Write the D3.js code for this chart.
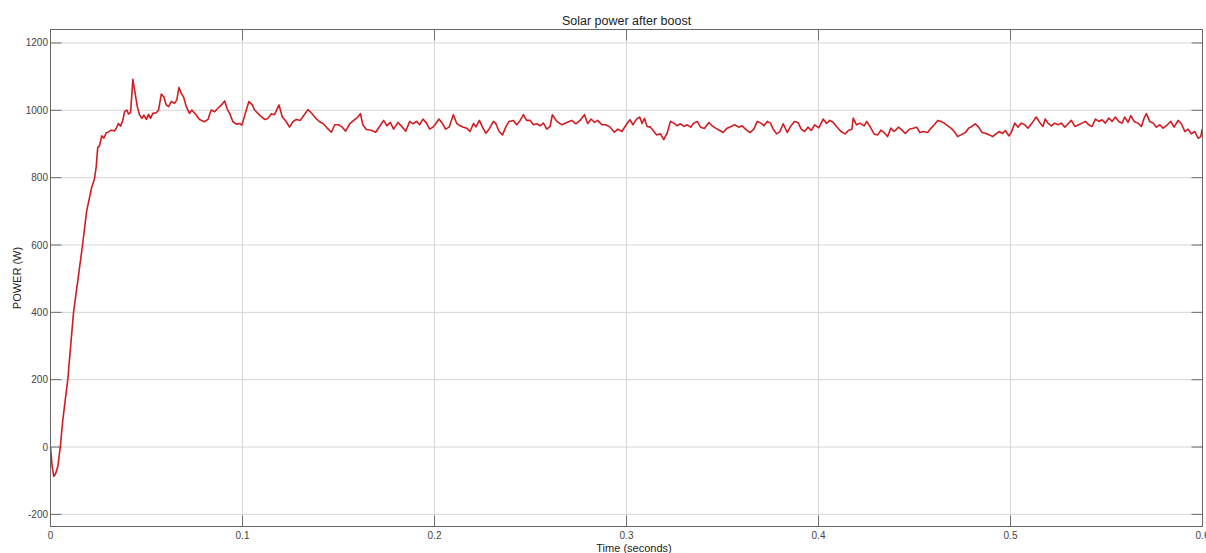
<!DOCTYPE html>
<html>
<head>
<meta charset="utf-8">
<script src="https://cdn.jsdelivr.net/npm/d3@7"></script>
<style>
  body { margin: 0; background: #fff; }
  text { font-family: "Liberation Sans", Arial, sans-serif; }
</style>
</head>
<body>
<div id="chart"></div>
<script>
// simulation output
const time = [
  0, 0.0008, 0.0017, 0.0026, 0.0038, 0.0051, 0.0064, 0.0078, 0.0090, 0.0120,
  0.0167, 0.0188, 0.0214, 0.0229, 0.0238, 0.0246, 0.0255, 0.0267, 0.0278, 0.0290,
  0.0302, 0.0316, 0.0334, 0.0342, 0.0354, 0.0365, 0.0377, 0.0386, 0.0398, 0.0406,
  0.0417, 0.0429, 0.0438, 0.0452, 0.0464, 0.0476, 0.0486, 0.0499, 0.0511, 0.0521,
  0.0533, 0.0551, 0.0563, 0.0577, 0.0590, 0.0603, 0.0615, 0.0629, 0.0646, 0.0658,
  0.0669, 0.0681, 0.0693, 0.0707, 0.0724, 0.0736, 0.0759, 0.0776, 0.0802, 0.0820,
  0.0837, 0.0855, 0.0872, 0.0890, 0.0907, 0.0921, 0.0933, 0.0950, 0.0968, 0.0985,
  0.0997, 0.1020, 0.1033, 0.1051, 0.1063, 0.1080, 0.1098, 0.1115, 0.1132, 0.1150,
  0.1167, 0.1190, 0.1207, 0.1228, 0.1245, 0.1263, 0.1280, 0.1301, 0.1318, 0.1341,
  0.1359, 0.1381, 0.1402, 0.1419, 0.1440, 0.1463, 0.1480, 0.1502, 0.1520, 0.1537,
  0.1558, 0.1579, 0.1601, 0.1614, 0.1627, 0.1645, 0.1671, 0.1694, 0.1714, 0.1735,
  0.1752, 0.1770, 0.1787, 0.1810, 0.1833, 0.1850, 0.1871, 0.1888, 0.1906, 0.1923,
  0.1940, 0.1958, 0.1975, 0.1992, 0.2003, 0.2023, 0.2041, 0.2058, 0.2076, 0.2098,
  0.2116, 0.2133, 0.2151, 0.2168, 0.2185, 0.2203, 0.2216, 0.2234, 0.2250, 0.2267,
  0.2284, 0.2307, 0.2319, 0.2336, 0.2354, 0.2371, 0.2388, 0.2411, 0.2428, 0.2446,
  0.2463, 0.2480, 0.2498, 0.2515, 0.2533, 0.2550, 0.2567, 0.2585, 0.2602, 0.2614,
  0.2637, 0.2663, 0.2689, 0.2715, 0.2736, 0.2758, 0.2781, 0.2798, 0.2816, 0.2833,
  0.2850, 0.2871, 0.2892, 0.2915, 0.2937, 0.2955, 0.2976, 0.3002, 0.3018, 0.3034,
  0.3052, 0.3069, 0.3081, 0.3094, 0.3107, 0.3125, 0.3139, 0.3156, 0.3177, 0.3194,
  0.3212, 0.3229, 0.3247, 0.3264, 0.3281, 0.3299, 0.3316, 0.3334, 0.3351, 0.3368,
  0.3386, 0.3406, 0.3429, 0.3446, 0.3464, 0.3486, 0.3503, 0.3524, 0.3545, 0.3563,
  0.3585, 0.3602, 0.3620, 0.3643, 0.3663, 0.3681, 0.3701, 0.3716, 0.3733, 0.3750,
  0.3764, 0.3782, 0.3799, 0.3816, 0.3837, 0.3854, 0.3875, 0.3893, 0.3910, 0.3928,
  0.3945, 0.3962, 0.3980, 0.4002, 0.4024, 0.4042, 0.4059, 0.4077, 0.4094, 0.4117,
  0.4139, 0.4157, 0.4174, 0.4181, 0.4198, 0.4216, 0.4238, 0.4251, 0.4268, 0.4290,
  0.4308, 0.4325, 0.4342, 0.4360, 0.4377, 0.4394, 0.4417, 0.4435, 0.4452, 0.4473,
  0.4493, 0.4511, 0.4528, 0.4546, 0.4568, 0.4586, 0.4603, 0.4621, 0.4638, 0.4655,
  0.4673, 0.4690, 0.4707, 0.4725, 0.4742, 0.4765, 0.4782, 0.4799, 0.4816, 0.4834,
  0.4852, 0.4872, 0.4890, 0.4907, 0.4924, 0.4942, 0.4959, 0.4973, 0.4991, 0.5004,
  0.5022, 0.5039, 0.5056, 0.5074, 0.5091, 0.5112, 0.5134, 0.5152, 0.5169, 0.5181,
  0.5195, 0.5213, 0.5230, 0.5248, 0.5265, 0.5283, 0.5300, 0.5317, 0.5335, 0.5355,
  0.5373, 0.5390, 0.5407, 0.5425, 0.5442, 0.5460, 0.5477, 0.5494, 0.5512, 0.5529,
  0.5546, 0.5564, 0.5581, 0.5595, 0.5612, 0.5626, 0.5644, 0.5664, 0.5682, 0.5696,
  0.5708, 0.5725, 0.5743, 0.5760, 0.5777, 0.5795, 0.5817, 0.5835, 0.5852, 0.5873,
  0.5890, 0.5908, 0.5925, 0.5942, 0.5960, 0.5977, 0.5991, 0.5998
];
const power = [
  0, -55, -87, -80, -58, 0, 80, 145, 200, 400,
  600, 700, 770, 796, 832, 890, 894, 924, 917, 933,
  936, 941, 939, 946, 961, 953, 971, 996, 1001, 989,
  993, 1092, 1060, 1011, 986, 976, 986, 973, 988, 976,
  991, 993, 1001, 1048, 1040, 1016, 1011, 1026, 1021, 1031,
  1068, 1050, 1040, 1011, 991, 1001, 986, 973, 966, 973,
  1001, 996, 1006, 1016, 1028, 1003, 991, 966, 959, 961,
  956, 1001, 1026, 1016, 1001, 991, 981, 973, 976, 990,
  987, 1016, 981, 966, 950, 966, 973, 970, 984, 1002,
  992, 977, 966, 961, 948, 935, 957, 957, 950, 938,
  960, 970, 980, 990, 957, 943, 941, 935, 952, 970,
  954, 964, 944, 964, 950, 938, 967, 960, 967, 957,
  974, 962, 944, 950, 957, 974, 961, 944, 950, 987,
  961, 954, 950, 947, 937, 961, 951, 970, 950, 932,
  944, 967, 961, 938, 927, 950, 967, 970, 957, 970,
  987, 970, 970, 957, 960, 954, 962, 944, 952, 987,
  967, 957, 964, 970, 960, 970, 987, 961, 974, 964,
  970, 957, 957, 950, 935, 944, 937, 960, 972, 957,
  974, 980, 961, 976, 952, 950, 940, 927, 930, 913,
  933, 967, 962, 954, 960, 952, 957, 950, 962, 967,
  950, 946, 964, 954, 947, 940, 934, 947, 952, 957,
  950, 954, 944, 934, 944, 967, 962, 954, 967, 962,
  944, 930, 937, 960, 934, 952, 967, 964, 944, 937,
  950, 940, 957, 948, 974, 961, 970, 964, 952, 937,
  930, 941, 944, 977, 957, 962, 954, 967, 952, 929,
  927, 941, 934, 922, 947, 937, 950, 941, 931, 944,
  947, 950, 934, 937, 934, 947, 957, 970, 967, 962,
  954, 947, 937, 922, 927, 934, 947, 952, 960, 950,
  934, 931, 927, 922, 930, 937, 931, 940, 924, 934,
  962, 950, 962, 957, 947, 962, 980, 964, 952, 974,
  962, 954, 962, 957, 962, 950, 960, 970, 952, 957,
  962, 967, 957, 952, 974, 967, 972, 962, 977, 967,
  980, 967, 962, 980, 964, 984, 967, 962, 952, 977,
  990, 967, 962, 950, 957, 947, 957, 967, 950, 970,
  960, 937, 944, 930, 937, 917, 922, 944
];

const xTicks = [0, 0.1, 0.2, 0.3, 0.4, 0.5, 0.6];
const yTicks = [-200, 0, 200, 400, 600, 800, 1000, 1200];

const width = 1206, height = 553;
const plotL = 50.5, plotR = 1202.5, plotT = 29.5, plotB = 526.5;

const svg = d3.select("#chart")
  .append("svg")
  .attr("width", width)
  .attr("height", height)
  .attr("viewBox", [0, 0, width, height]);

const x = d3.scaleLinear().domain([0, 0.6]).range([plotL, plotR]);
const y = d3.scaleLinear().domain([-236, 1240]).range([plotB, plotT]);

// grid
svg.append("g")
  .selectAll("line")
  .data(xTicks)
  .join("line")
  .attr("x1", d => x(d)).attr("x2", d => x(d))
  .attr("y1", plotT).attr("y2", plotB)
  .attr("stroke", "#d6d6d6");
svg.append("g")
  .selectAll("line")
  .data(yTicks)
  .join("line")
  .attr("x1", plotL).attr("x2", plotR)
  .attr("y1", d => y(d)).attr("y2", d => y(d))
  .attr("stroke", "#d6d6d6");

// inward tick marks on all four sides
const tk = 11;
const ticks = svg.append("g").attr("stroke", "#6e6e6e");
xTicks.forEach(d => {
  ticks.append("line").attr("x1", x(d)).attr("x2", x(d)).attr("y1", plotB).attr("y2", plotB - tk);
  ticks.append("line").attr("x1", x(d)).attr("x2", x(d)).attr("y1", plotT).attr("y2", plotT + tk);
});
yTicks.forEach(d => {
  ticks.append("line").attr("x1", plotL).attr("x2", plotL + tk).attr("y1", y(d)).attr("y2", y(d));
  ticks.append("line").attr("x1", plotR).attr("x2", plotR - tk).attr("y1", y(d)).attr("y2", y(d));
});

// the signal
const line = d3.line()
  .x((d, i) => x(time[i]))
  .y(d => y(d));
svg.append("path")
  .datum(power)
  .attr("fill", "none")
  .attr("stroke", "#d01c22")
  .attr("stroke-width", 1.6)
  .attr("stroke-linejoin", "round")
  .attr("d", line);

// box
svg.append("rect")
  .attr("x", plotL).attr("y", plotT)
  .attr("width", plotR - plotL).attr("height", plotB - plotT)
  .attr("fill", "none")
  .attr("stroke", "#666");

// tick labels (the last one is cut by the window edge, as in the original)
svg.append("g")
  .selectAll("text")
  .data(xTicks)
  .join("text")
  .attr("x", d => x(d))
  .attr("y", 539)
  .attr("text-anchor", "middle")
  .attr("font-size", 10)
  .attr("fill", "#444")
  .text(d => d3.format("~g")(d));
svg.append("g")
  .selectAll("text")
  .data(yTicks)
  .join("text")
  .attr("x", 48)
  .attr("y", d => y(d) + 3.5)
  .attr("text-anchor", "end")
  .attr("font-size", 10)
  .attr("fill", "#444")
  .text(d => d);

// titles
svg.append("text")
  .attr("x", (plotL + plotR) / 2)
  .attr("y", 25)
  .attr("text-anchor", "middle")
  .attr("font-size", 12.5)
  .attr("fill", "#222")
  .text("Solar power after boost");
svg.append("text")
  .attr("x", 634)
  .attr("y", 552)
  .attr("text-anchor", "middle")
  .attr("font-size", 11)
  .attr("fill", "#222")
  .text("Time (seconds)");
svg.append("text")
  .attr("transform", `translate(21,${(plotT + plotB) / 2}) rotate(-90)`)
  .attr("text-anchor", "middle")
  .attr("font-size", 11)
  .attr("fill", "#222")
  .text("POWER (W)");
</script>
</body>
</html>
